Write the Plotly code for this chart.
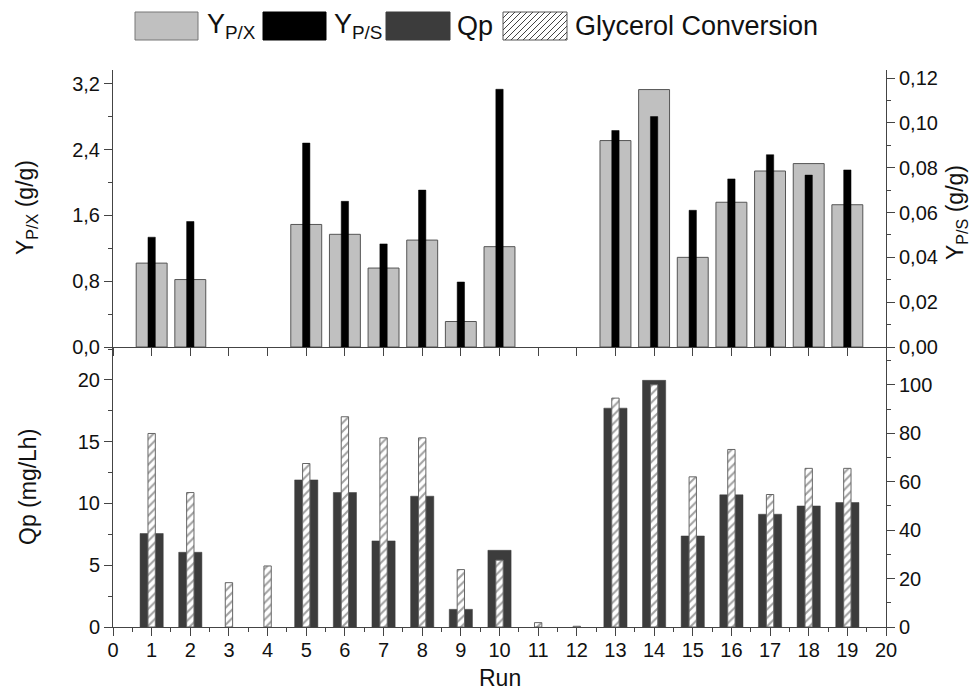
import plotly.graph_objects as go

runs = list(range(1, 20))
ypx = [1.02, 0.82, None, None, 1.49, 1.37, 0.96, 1.30, 0.31, 1.22, None, None, 2.51, 3.13, 1.09, 1.76, 2.14, 2.23, 1.73]
yps = [0.049, 0.056, None, None, 0.091, 0.065, 0.046, 0.070, 0.029, 0.115, None, None, 0.0966, 0.1028, 0.061, 0.075, 0.0858, 0.0767, 0.079]
qp = [7.57, 6.05, None, None, 11.91, 10.89, 6.97, 10.59, 1.43, 6.21, None, None, 17.72, 19.97, 7.37, 10.70, 9.13, 9.80, 10.08]
glyc = [79.9, 55.5, 18.3, 25.2, 67.5, 86.8, 78.1, 78.1, 23.7, 27.6, 1.8, 0.3, 94.5, 100.0, 62.0, 73.3, 54.7, 65.5, 65.5]

W, H = 974, 694
L, R, T, B = 113, 88, 70, 67
PW, PH = W - L - R, H - T - B
split = (627 - 347) / PH

FONT = "Liberation Sans, Arial, sans-serif"
AX = "#444444"

def px(x):
    return (x - L) / PW

def py(y):
    return (H - B - y) / PH

fig = go.Figure()
fig.add_trace(go.Bar(x=runs, y=ypx, width=0.8, xaxis="x", yaxis="y",
                     marker=dict(color="#c0c0c0", line=dict(color="#555555", width=1)), name="YP/X"))
fig.add_trace(go.Bar(x=runs, y=yps, width=0.19, xaxis="x", yaxis="y2",
                     marker=dict(color="#000000", line=dict(color="#000000", width=0.5)), name="YP/S"))
fig.add_trace(go.Bar(x=runs, y=qp, width=0.6, xaxis="x2", yaxis="y3",
                     marker=dict(color="#3c3c3c", line=dict(color="#3c3c3c", width=0.5)), name="Qp"))
fig.add_trace(go.Bar(x=runs, y=glyc, width=0.19, xaxis="x2", yaxis="y4",
                     marker=dict(color="#ffffff", line=dict(color="#666666", width=1),
                                 pattern=dict(shape="/", fgcolor="#444444", bgcolor="#ffffff", size=6, solidity=0.35)),
                     name="Glycerol Conversion"))

tickfont = dict(family=FONT, size=20, color="#111111")
common = dict(showline=True, linecolor=AX, linewidth=1, ticks="outside", tickcolor=AX, ticklen=8,
              tickwidth=1, showgrid=False, zeroline=False, tickfont=tickfont)

fig.update_layout(
    width=W, height=H, margin=dict(l=L, r=R, t=T, b=B),
    paper_bgcolor="white", plot_bgcolor="white",
    barmode="overlay", showlegend=False, separators=",.",
    font=dict(family=FONT, color="#111111"),
    xaxis=dict(range=[0, 20], anchor="y", domain=[0, 1], dtick=1, tick0=0, showticklabels=False, **common),
    xaxis3=dict(range=[0, 20], anchor="y", overlaying="x", side="top", dtick=1, tick0=0,
                showticklabels=False, showline=True, linecolor=AX, ticks="inside", tickcolor=AX,
                ticklen=8, showgrid=False, zeroline=False),
    xaxis2=dict(range=[0, 20], anchor="y3", domain=[0, 1], dtick=1, tick0=0, ticklabelstandoff=-3,
                minor=dict(dtick=0.5, ticklen=4, tickcolor=AX, ticks="outside"), **common),
    yaxis=dict(domain=[split, 1], range=[0, 3.368], tickvals=[0, 0.8, 1.6, 2.4, 3.2], tickformat=".1f",
               anchor="x", minor=dict(tickvals=[0.4, 1.2, 2.0, 2.8], ticklen=4, tickcolor=AX, ticks="outside"), **common),
    yaxis2=dict(overlaying="y", side="right", anchor="x", range=[0, 0.1236], dtick=0.02, tick0=0, tickformat=".2f",
                minor=dict(dtick=0.01, ticklen=4, tickcolor=AX, ticks="outside"), **common),
    yaxis3=dict(domain=[0, split], range=[0, 22.67], dtick=5, tick0=0, anchor="x2",
                minor=dict(dtick=2.5, ticklen=4, tickcolor=AX, ticks="outside"), **common),
    yaxis4=dict(overlaying="y3", side="right", anchor="x2", range=[0, 115.6], dtick=20, tick0=0,
                minor=dict(dtick=10, ticklen=4, tickcolor=AX, ticks="outside"), **common),
)

ann = []
ann.append(dict(x=px(27), y=py(208), xref="paper", yref="paper", text="Y<sub>P/X</sub> (g/g)", textangle=-90,
                showarrow=False, font=dict(size=23, family=FONT), xanchor="center", yanchor="middle"))
ann.append(dict(x=px(28), y=py(487), xref="paper", yref="paper", text="Qp (mg/Lh)", textangle=-90,
                showarrow=False, font=dict(size=23, family=FONT), xanchor="center", yanchor="middle"))
ann.append(dict(x=px(956), y=py(213), xref="paper", yref="paper", text="Y<sub>P/S</sub> (g/g)", textangle=-90,
                showarrow=False, font=dict(size=23, family=FONT), xanchor="center", yanchor="middle"))
ann.append(dict(x=px(500), y=py(678), xref="paper", yref="paper", text="Run",
                showarrow=False, font=dict(size=23, family=FONT), xanchor="center", yanchor="middle"))

# legend
shapes = []
boxes = [(135, 198, "#c0c0c0", "#777777"), (263, 326, "#000000", "#000000"), (386, 450, "#3c3c3c", "#3c3c3c")]
for x0, x1, fc, lc in boxes:
    shapes.append(dict(type="rect", xref="paper", yref="paper", x0=px(x0), x1=px(x1), y0=py(40), y1=py(12),
                       fillcolor=fc, line=dict(color=lc, width=1)))
hx0, hx1, hy0, hy1 = 503, 567, 12, 40
shapes.append(dict(type="rect", xref="paper", yref="paper", x0=px(hx0), x1=px(hx1), y0=py(hy1), y1=py(hy0),
                   fillcolor="white", line=dict(color="#555555", width=1)))
path = ""
step = 6
k = hx0 - (hy1 - hy0)
while k < hx1:
    xa, ya = k, hy1
    xb, yb = k + (hy1 - hy0), hy0
    if xa < hx0:
        ya = hy1 - (hx0 - xa); xa = hx0
    if xb > hx1:
        yb = hy0 + (xb - hx1); xb = hx1
    if xa < xb:
        path += f"M{px(xa)},{py(ya)} L{px(xb)},{py(yb)} "
    k += step
shapes.append(dict(type="path", xref="paper", yref="paper", path=path, line=dict(color="#444444", width=1)))

legtexts = [(205, "Y<sub>P/X</sub>"), (332, "Y<sub>P/S</sub>"), (455, "Qp"), (573, "Glycerol Conversion")]
for x, t in legtexts:
    ann.append(dict(x=px(x), y=py(26), xref="paper", yref="paper", text=t, showarrow=False,
                    font=dict(size=27, family=FONT), xanchor="left", yanchor="middle"))

fig.update_layout(annotations=ann, shapes=shapes)
fig.write_html("out.html")
